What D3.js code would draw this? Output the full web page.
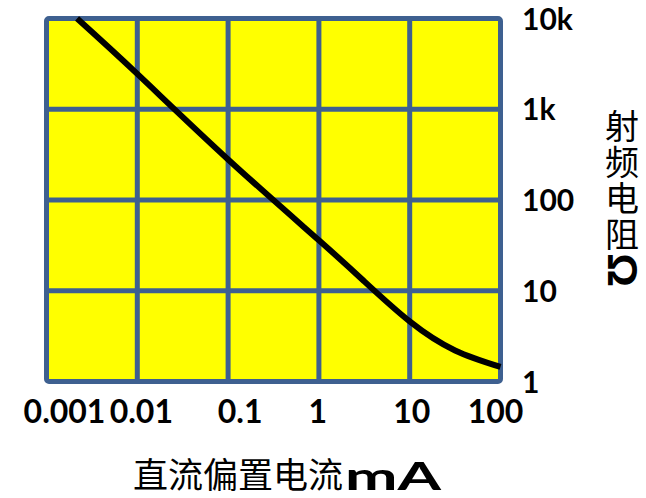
<!DOCTYPE html>
<html>
<head>
<meta charset="utf-8">
<script src="https://cdn.jsdelivr.net/npm/d3@7"></script>
<style>
  html, body { margin: 0; padding: 0; background: #ffffff; }
  svg { display: block; }
</style>
</head>
<body>
<svg id="chart" width="646" height="498"></svg>
<script>
// RF resistance of a PIN diode versus DC bias current (log-log)
const biasCurrent = [0.00217, 0.01, 0.1, 1, 3.16, 10, 31.6, 100];   // mA
const rfResistance = [10000, 2450, 280, 36, 12.7, 4.6, 2.2, 1.45];   // ohm

const xTickValues = [0.001, 0.01, 0.1, 1, 10, 100];
const xTickLabels = ["0.001", "0.01", "0.1", "1", "10", "100"];
const yTickValues = [1, 10, 100, 1000, 10000];
const yTickLabels = ["1", "10", "100", "1k", "10k"];

const xTitle = "直流偏置电流";
const xUnit = "mA";
const yTitle = "射频电阻";
const yUnit = "Ω";

const svg = d3.select("#chart");
const gridColor = "#3e6090";

const plot = { left: 46.5, right: 500.5, top: 18.5, bottom: 381.5 };

const x = d3.scaleLog().domain([0.001, 100]).range([plot.left, plot.right]);
const y = d3.scaleLog().domain([1, 10000]).range([plot.bottom, plot.top]);

// plot background
svg.append("rect")
  .attr("x", plot.left).attr("y", plot.top)
  .attr("width", plot.right - plot.left).attr("height", plot.bottom - plot.top)
  .attr("fill", "#ffff00");

// grid lines at every decade
svg.append("g").selectAll("line")
  .data(xTickValues.slice(1, -1)).join("line")
  .attr("x1", d => x(d)).attr("x2", d => x(d))
  .attr("y1", plot.top).attr("y2", plot.bottom)
  .attr("stroke", gridColor).attr("stroke-width", 5);

svg.append("g").selectAll("line")
  .data(yTickValues.slice(1, -1)).join("line")
  .attr("x1", plot.left).attr("x2", plot.right)
  .attr("y1", d => y(d)).attr("y2", d => y(d))
  .attr("stroke", gridColor).attr("stroke-width", 5);

// frame
svg.append("rect")
  .attr("x", plot.left).attr("y", plot.top)
  .attr("width", plot.right - plot.left).attr("height", plot.bottom - plot.top)
  .attr("rx", 2.5)
  .attr("fill", "none")
  .attr("stroke", gridColor).attr("stroke-width", 5);

// resistance curve
const pts = biasCurrent.map((c, i) => [c, rfResistance[i]]);
const line = d3.line()
  .x(d => x(d[0]))
  .y(d => y(d[1]))
  .curve(d3.curveNatural);

svg.append("path")
  .attr("d", line(pts))
  .attr("fill", "none")
  .attr("stroke", "#000000")
  .attr("stroke-width", 6);

// x tick labels (crowded ones nudged right so they stay readable)
const xNudge = [18, 4, 12, -1, 2, -5];
svg.append("g").selectAll("text")
  .data(xTickValues).join("text")
  .attr("x", (d, i) => x(d) + xNudge[i])
  .attr("y", 423)
  .attr("text-anchor", "middle")
  .attr("font-family", "Lato, 'Liberation Sans', sans-serif")
  .attr("font-weight", "bold")
  .attr("font-size", 32)
  .attr("fill", "#000")
  .text((d, i) => xTickLabels[i]);

// y tick labels on the right
svg.append("g").selectAll("text")
  .data(yTickValues).join("text")
  .attr("x", 522)
  .attr("y", d => y(d) + 11)
  .attr("text-anchor", "start")
  .attr("font-family", "Lato, 'Liberation Sans', sans-serif")
  .attr("font-weight", "bold")
  .attr("font-size", 30)
  .attr("fill", "#000")
  .text((d, i) => yTickLabels[i]);

// x axis title
svg.append("text")
  .attr("x", 133).attr("y", 488)
  .attr("font-family", "'Noto Sans CJK SC', sans-serif")
  .attr("font-size", 35)
  .attr("fill", "#000")
  .text(xTitle);
svg.append("text")
  .attr("x", 345).attr("y", 490)
  .attr("font-family", "Lato, 'Liberation Sans', sans-serif")
  .attr("font-weight", "bold")
  .attr("font-size", 38)
  .attr("textLength", 96)
  .attr("lengthAdjust", "spacingAndGlyphs")
  .attr("fill", "#000")
  .text(xUnit);

// vertical y axis title, written top to bottom
svg.append("text")
  .attr("x", 622).attr("y", 109.5)
  .attr("writing-mode", "vertical-rl")
  .attr("letter-spacing", 1.9)
  .attr("font-family", "'Noto Sans CJK SC', sans-serif")
  .attr("font-size", 34)
  .attr("fill", "#000")
  .text(yTitle);
svg.append("text")
  .attr("transform", `translate(622,270) rotate(90)`)
  .attr("text-anchor", "middle")
  .attr("dominant-baseline", "central")
  .attr("font-family", "'Liberation Sans', sans-serif")
  .attr("font-weight", "bold")
  .attr("font-size", 42)
  .attr("fill", "#000")
  .text(yUnit);
</script>
</body>
</html>
